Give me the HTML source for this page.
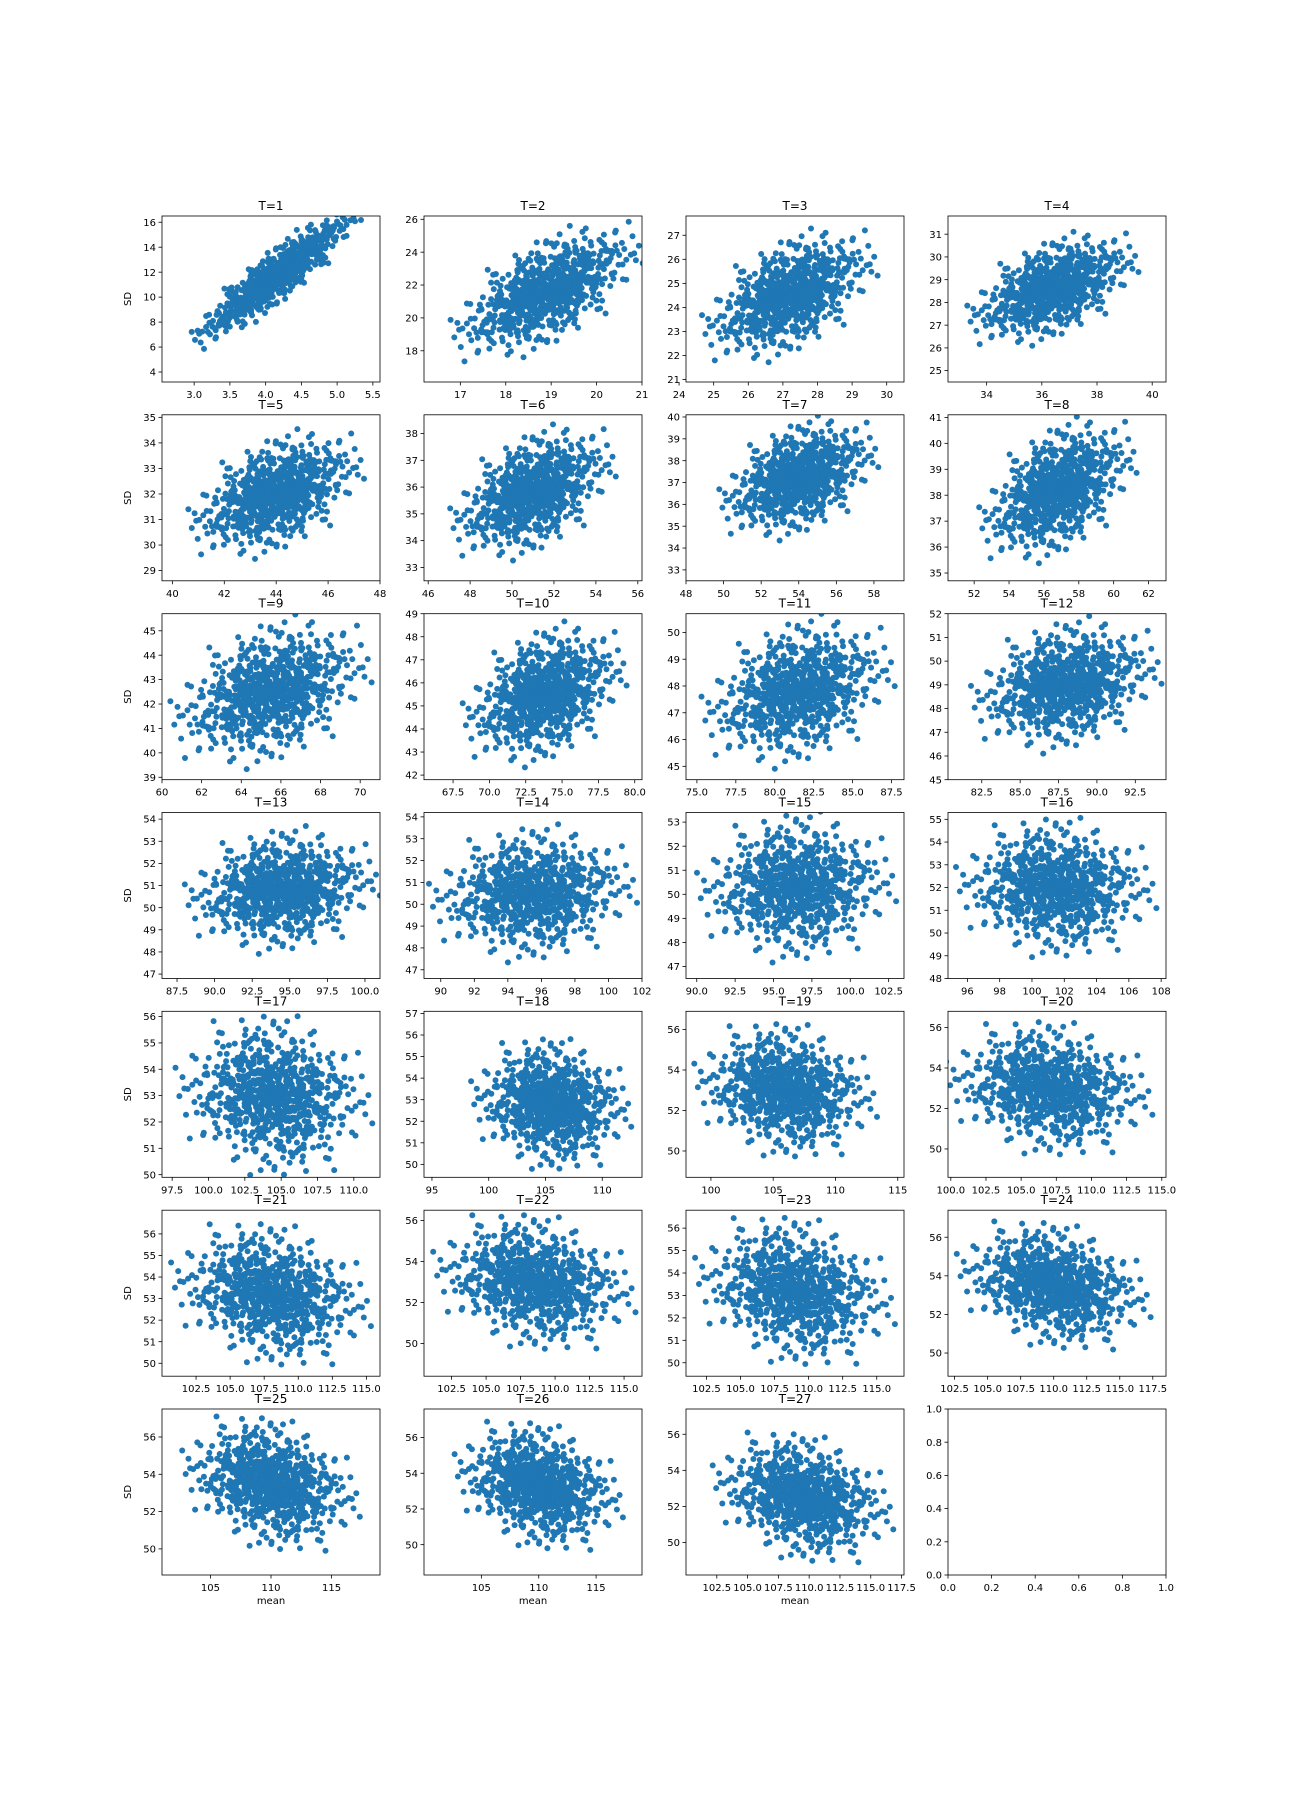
<!DOCTYPE html>
<html><head><meta charset="utf-8"><style>
html,body{margin:0;padding:0;background:#fff;}
svg{display:block;font-family:"DejaVu Sans","Liberation Sans",sans-serif;}
</style></head><body>
<svg id="fig" width="1296" height="1800" viewBox="0 0 1296 1800" xmlns="http://www.w3.org/2000/svg"></svg>
<script>
const titles=["T=1","T=2","T=3","T=4","T=5","T=6","T=7","T=8","T=9","T=10","T=11","T=12","T=13","T=14","T=15","T=16","T=17","T=18","T=19","T=20","T=21","T=22","T=23","T=24","T=25","T=26","T=27"];
const xDomains=[[2.55,5.6],[16.2,21.0],[24.2,30.5],[32.6,40.5],[39.6,48.0],[45.8,56.2],[48,59.6],[50.5,63],[60,71],[65.5,80.5],[74.3,88.3],[80.3,94.5],[86.5,101],[89,102],[89.3,103.5],[94.8,108.3],[96.8,111.8],[94.3,113.5],[98,115.5],[99.8,115.3],[100,116],[100.5,116.3],[101,117],[102,118.5],[101,119],[100,119],[100,117.7]];
const yDomains=[[3.2,16.5],[16.1,26.2],[20.9,27.8],[24.5,31.8],[28.6,35.1],[32.5,38.7],[32.5,40.1],[34.7,41.1],[38.9,45.7],[41.8,49],[44.5,50.7],[45,52],[46.8,54.3],[46.6,54.2],[46.5,53.4],[48,55.3],[49.9,56.2],[49.4,57.1],[48.7,56.9],[48.6,56.8],[49.4,57.1],[48.4,56.5],[49.4,56.8],[48.8,57.4],[48.6,57.5],[48.3,57.6],[48.2,57.4]];
const xTicks=[["3.0","3.5","4.0","4.5","5.0","5.5"],["17","18","19","20","21"],["24","25","26","27","28","29","30"],["34","36","38","40"],["40","42","44","46","48"],["46","48","50","52","54","56"],["48","50","52","54","56","58"],["52","54","56","58","60","62"],["60","62","64","66","68","70"],["67.5","70.0","72.5","75.0","77.5","80.0"],["75.0","77.5","80.0","82.5","85.0","87.5"],["82.5","85.0","87.5","90.0","92.5"],["87.5","90.0","92.5","95.0","97.5","100.0"],["90","92","94","96","98","100","102"],["90.0","92.5","95.0","97.5","100.0","102.5"],["96","98","100","102","104","106","108"],["97.5","100.0","102.5","105.0","107.5","110.0"],["95","100","105","110"],["100","105","110","115"],["100.0","102.5","105.0","107.5","110.0","112.5","115.0"],["102.5","105.0","107.5","110.0","112.5","115.0"],["102.5","105.0","107.5","110.0","112.5","115.0"],["102.5","105.0","107.5","110.0","112.5","115.0"],["102.5","105.0","107.5","110.0","112.5","115.0","117.5"],["105","110","115"],["105","110","115"],["102.5","105.0","107.5","110.0","112.5","115.0","117.5"]];
const yTicks=[["4","6","8","10","12","14","16"],["18","20","22","24","26"],["21","22","23","24","25","26","27"],["25","26","27","28","29","30","31"],["29","30","31","32","33","34","35"],["33","34","35","36","37","38"],["33","34","35","36","37","38","39","40"],["35","36","37","38","39","40","41"],["39","40","41","42","43","44","45"],["42","43","44","45","46","47","48","49"],["45","46","47","48","49","50"],["45","46","47","48","49","50","51","52"],["47","48","49","50","51","52","53","54"],["47","48","49","50","51","52","53","54"],["47","48","49","50","51","52","53"],["48","49","50","51","52","53","54","55"],["50","51","52","53","54","55","56"],["50","51","52","53","54","55","56","57"],["50","52","54","56"],["50","52","54","56"],["50","51","52","53","54","55","56"],["50","52","54","56"],["50","51","52","53","54","55","56"],["50","52","54","56"],["50","52","54","56"],["50","52","54","56"],["50","52","54","56"]];
const centersX=[4.15,18.9,27.2,36.4,44,51,54,56.8,65.5,73.8,81.5,88,94.5,95.5,96.5,101.5,104.5,105.5,106,107,108,108.5,109,110,110,110,109.5];
const spreadsX=[0.42,0.75,0.9,1.1,1.2,1.4,1.5,1.6,1.8,2.0,2.2,2.2,2.3,2.2,2.3,2.2,2.4,2.5,2.6,2.6,2.6,2.6,2.6,2.6,2.6,2.6,2.6];
const centersY=[11.7,21.6,24.5,28.6,32,35.8,37.2,38.2,42.5,45.5,47.8,49,50.8,50.5,50.3,52,53,52.8,53,53,53.2,53,53.2,53.5,53.5,53.3,52.5];
const spreadsY=[2.0,1.5,1.0,0.9,0.9,0.9,1.0,1.0,1.1,1.1,1.0,1.0,1.0,1.1,1.1,1.1,1.1,1.1,1.2,1.2,1.2,1.2,1.2,1.2,1.3,1.3,1.3];
const corrs=[0.9,0.6,0.5,0.5,0.45,0.45,0.4,0.45,0.35,0.35,0.3,0.25,0.15,0.1,0.05,-0.05,-0.1,-0.1,-0.15,-0.15,-0.2,-0.2,-0.2,-0.25,-0.25,-0.25,-0.25];
const baseU=[0.12,-0.45,1.03,-1.21,0.37,0.88,-0.06,-0.72,1.55,-0.31,0.54,-1.87,0.21,0.95,-0.63,0.02,-1.12,0.71,1.29,-0.18,-0.94,0.43,-0.52,2.11,0.15,-0.27,0.66,-1.45,1.08,-0.81,0.33,-0.09,-2.24,0.58,0.81,-0.38,1.74,-0.66,0.26,-1.03,0.47,-0.14,0.99,-0.57,-1.63,0.08,1.37,-0.23,0.62,-0.88,2.57,-0.42,0.19,-1.31,0.74,-0.02,1.18,-0.69,0.39,-0.97,-0.11,1.46,-0.49,0.29,-2.71,0.86,-0.34,0.51,1.91,-0.76,0.05,-1.51,0.69,-0.21,1.12,-0.59,0.34,-0.84,0.92,-1.22,0.24,-0.36,0.77,-1.76,0.44,1.63,-0.04,-0.61,0.17,-1.09,1.24,-0.29,0.56,-0.79,2.34,-0.16,0.41,-1.38,0.83,-0.53,0.09,1.01,-0.67,-1.96,0.31,0.64,-0.25,1.41,-0.47,0.13,-0.85,0.72,-1.17,0.48,1.83,-0.39,-0.07,0.97,-1.56,0.27,0.6,-0.74,1.15,-0.19,-2.02,0.36,0.79,-0.55,1.33,-0.98,0.22,-0.12,0.52,-1.27,2.03,-0.64,0.03,0.89,-0.43,-1.71,0.45,1.27,-0.33,0.67,-0.89,-0.01,1.52,-1.06,0.35,-0.58,0.93,-1.41,0.18,-0.26,1.68,-0.71,0.57,-2.41,0.25,1.06,-0.51,0.38,-1.14,0.76,-0.17,2.23,-0.83,0.11,-0.4,1.2,-1.33,0.63,-0.08,0.84,-1.58,0.42,1.49,-0.62,-0.2,0.98,-0.91,0.28,1.79,-1.24,0.53,-0.35,0.07,-1.01,1.35,-0.47,2.82,-0.28,0.73,-0.78,0.16,-1.92,1.09,-0.56,0.49,-0.13];
const baseV=[-0.33,0.84,0.21,-1.04,1.47,-0.58,0.09,0.66,-1.29,0.35,-0.76,1.12,-0.15,-0.49,1.91,0.27,-0.88,0.53,-1.62,0.04,0.98,-0.41,1.36,-0.22,-1.83,0.71,-0.06,0.45,-0.97,2.21,-0.54,0.18,1.05,-1.17,0.32,-0.69,0.86,-0.12,-2.13,0.59,1.24,-0.37,-0.81,0.14,1.68,-0.95,0.42,-0.26,0.77,-1.41,0.01,1.53,-0.63,0.29,-1.08,2.47,-0.44,0.92,-0.18,-0.73,0.61,-1.55,0.38,1.15,-0.29,0.08,-1.21,0.83,-0.52,1.74,-0.91,0.24,-0.02,1.31,-1.69,0.47,0.73,-0.35,-2.52,0.16,1.02,-0.61,0.55,-0.09,1.43,-0.84,0.31,-1.33,0.67,0.05,-0.47,1.88,-0.72,0.22,-0.14,0.94,-1.11,0.39,-0.57,2.06,-0.23,0.63,-1.46,0.81,0.11,-0.78,1.27,-0.31,-0.99,0.48,1.61,-0.17,0.36,-1.92,0.69,-0.43,0.02,1.09,-0.66,0.25,-1.26,0.57,2.34,-0.38,-0.83,0.13,0.88,-1.58,0.44,-0.08,1.19,-0.51,0.3,-0.93,1.57,-0.27,0.76,-1.14,-0.04,0.62,-2.28,0.91,-0.36,0.19,1.38,-0.69,0.07,-1.37,0.54,1.04,-0.21,0.41,-0.87,1.76,-0.12,-0.59,0.97,-1.73,0.28,0.65,-0.45,2.62,-1.02,0.17,0.5,-0.3,1.22,-0.77,-1.49,0.33,0.85,-0.1,-0.64,1.44,-0.19,0.6,-2.01,0.37,1.11,-0.53,0.15,-1.19,0.72,-0.4,1.99,-0.86,0.26,0.03,-1.31,0.79,-0.68,1.28,0.4,-0.24,-1.65,0.58,1.16,-0.11,-0.48,0.9];
const emptyTicks=["0.0","0.2","0.4","0.6","0.8","1.0"];

const NS="http://www.w3.org/2000/svg";
const fig=document.getElementById('fig');
const colLeft=[162,424,686,948], rowTop=[216,414.8,613.7,812.5,1011.3,1210.2,1409];
const W=218,H=166;
function mk(tag,attrs,parent){const e=document.createElementNS(NS,tag);for(const k in attrs)e.setAttribute(k,attrs[k]);parent.appendChild(e);return e;}
function txt(s,attrs,parent){const e=mk('text',attrs,parent);e.textContent=s;return e;}

function drawAxes(idx,xd,yd,xt,yt,title){
  const L=colLeft[idx%4],T=rowTop[Math.floor(idx/4)];
  const g=mk('g',{},fig);
  
  
  const sx=v=>L+(v-xd[0])/(xd[1]-xd[0])*W;
  const sy=v=>T+H-(v-yd[0])/(yd[1]-yd[0])*H;
  return {g,L,T,sx,sy,finish(){
    const fr=mk('rect',{x:L,y:T,width:W,height:H,fill:'none',stroke:'#000','stroke-width':0.8},g);
    
    
    xt.forEach(s=>{const x=sx(parseFloat(s));
      mk('line',{x1:x,x2:x,y1:T+H,y2:T+H+3.5,stroke:'#000','stroke-width':0.8},g);
      const t=txt(s,{x:x,y:T+H+16,'font-size':10,'text-anchor':'middle',fill:'#000'},g);
      
      });
    yt.forEach(s=>{const y=sy(parseFloat(s));
      mk('line',{x1:L-3.5,x2:L,y1:y,y2:y,stroke:'#000','stroke-width':0.8},g);
      const t=txt(s,{x:L-6,y:y+3.6,'font-size':10,'text-anchor':'end',fill:'#000'},g);
      
      });
    const tt=txt(title,{x:L+W/2,y:T-6,'font-size':12,'text-anchor':'middle',fill:'#000'},g);
    
    
    if(idx%4===0){const yl=txt('SD',{x:0,y:0,'font-size':10,'text-anchor':'middle',fill:'#000',transform:'translate('+(L-31)+','+(T+H/2)+') rotate(-90)'},g);
      
      }
    if(Math.floor(idx/4)===6&&idx<27){const xl=txt('mean',{x:L+W/2,y:T+H+29,'font-size':10,'text-anchor':'middle',fill:'#000'},g);
      
      }
  }};
}

// each base pair is used in four orientations to build a denser standard-normal cloud
const orient=[[1,0,0,1],[0,1,-1,0],[-1,0,0,-1],[0,-1,1,0]];
const defs=mk('defs',{},fig);
for(let i=0;i<titles.length;i++){
  const ax=drawAxes(i,xDomains[i],yDomains[i],xTicks[i],yTicks[i],titles[i]);
  const cp=mk('clipPath',{id:'cp'+i},defs);
  mk('rect',{x:ax.L,y:ax.T,width:W,height:H},cp);
  const pts=mk('g',{'clip-path':'url(#cp'+i+')',fill:'#1f77b4'},ax.g);
  
  
  const r=corrs[i],q=Math.sqrt(1-r*r);
  for(const o of orient){
    for(let k=0;k<baseU.length;k++){
      const u=o[0]*baseU[k]+o[1]*baseV[k], v=o[2]*baseU[k]+o[3]*baseV[k];
      const xv=centersX[i]+spreadsX[i]*u;
      const yv=centersY[i]+spreadsY[i]*(r*u+q*v);
      const c=mk('circle',{cx:ax.sx(xv).toFixed(1),cy:ax.sy(yv).toFixed(1),r:3},pts);
      
      
    }
  }
  ax.finish();
}
const emp=drawAxes(27,[0,1],[0,1],emptyTicks,emptyTicks,'');
emp.finish();
</script>
</body></html>
